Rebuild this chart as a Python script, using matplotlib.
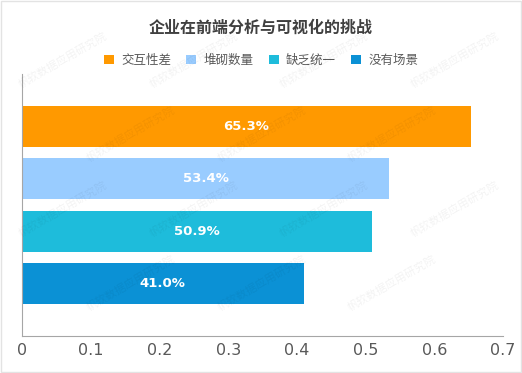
import matplotlib
matplotlib.use("Agg")
import matplotlib.pyplot as plt
from matplotlib.patches import Patch, Rectangle

plt.rcParams['font.family'] = ['Noto Sans CJK SC', 'DejaVu Sans']

categories = ["交互性差", "堆砌数量", "缺乏统一", "没有场景"]
values = [0.653, 0.534, 0.509, 0.410]
labels = ["65.3%", "53.4%", "50.9%", "41.0%"]
colors = ["#FF9900", "#99CCFF", "#1EBCDB", "#0B91D5"]
xticks = [0, 0.1, 0.2, 0.3, 0.4, 0.5, 0.6, 0.7]
xticklabels = ["0", "0.1", "0.2", "0.3", "0.4", "0.5", "0.6", "0.7"]
title = "企业在前端分析与可视化的挑战"
watermark = "帆软数据应用研究院"

fig = plt.figure(figsize=(5.22, 3.73), dpi=100)
fig.patch.set_facecolor("white")
fig.add_artist(Rectangle((0.002, 0.003), 0.996, 0.994, transform=fig.transFigure,
                         fill=False, edgecolor="#E3E3E3", linewidth=1))

ax = fig.add_axes([0.0421, 0.0992, 0.9215, 0.7024])
ypos = list(range(len(categories)))
bars = ax.barh(ypos, values, height=0.78, color=colors)
for b, lab in zip(bars, labels):
    ax.text(b.get_width() / 2, b.get_y() + b.get_height() / 2, lab,
            ha="center", va="center", color="white", fontsize=9.5,
            fontweight="bold", family=["DejaVu Sans"])
ax.set_ylim(4.0, -1.0)
ax.set_xlim(0, 0.7)
ax.set_xticks(xticks)
ax.set_xticklabels(xticklabels, family=["DejaVu Sans"], fontsize=11.5, color="#595959")
ax.set_yticks([])
ax.tick_params(axis="x", length=0, pad=5)
for s in ["top", "right"]:
    ax.spines[s].set_visible(False)
ax.spines["left"].set_color("#A6A6A6")
ax.spines["bottom"].set_color("#A6A6A6")
ax.set_facecolor("none")

fig.text(0.5, 0.925, title, ha="center", va="center", fontsize=11.5,
         fontweight="bold", color="#404040")

handles = [Patch(facecolor=c, edgecolor="none") for c in colors]
fig.legend(handles, categories, loc="center", bbox_to_anchor=(0.5, 0.838), ncol=4,
           frameon=False, fontsize=9, handlelength=0.8, handleheight=0.8,
           handletextpad=0.6, columnspacing=1.2, labelcolor="#595959")

# faint tiled watermark, kept inside the picture
for row, yy in enumerate([0.84, 0.64, 0.44, 0.24]):
    xs = [0.12, 0.37, 0.62, 0.87] if row % 2 == 0 else [0.25, 0.5, 0.75]
    for xx in xs:
        fig.text(xx, yy, watermark, rotation=30, ha="center", va="center",
                 fontsize=8, color="#000000", alpha=0.05, zorder=10)

fig.savefig("out.png", dpi=100)
